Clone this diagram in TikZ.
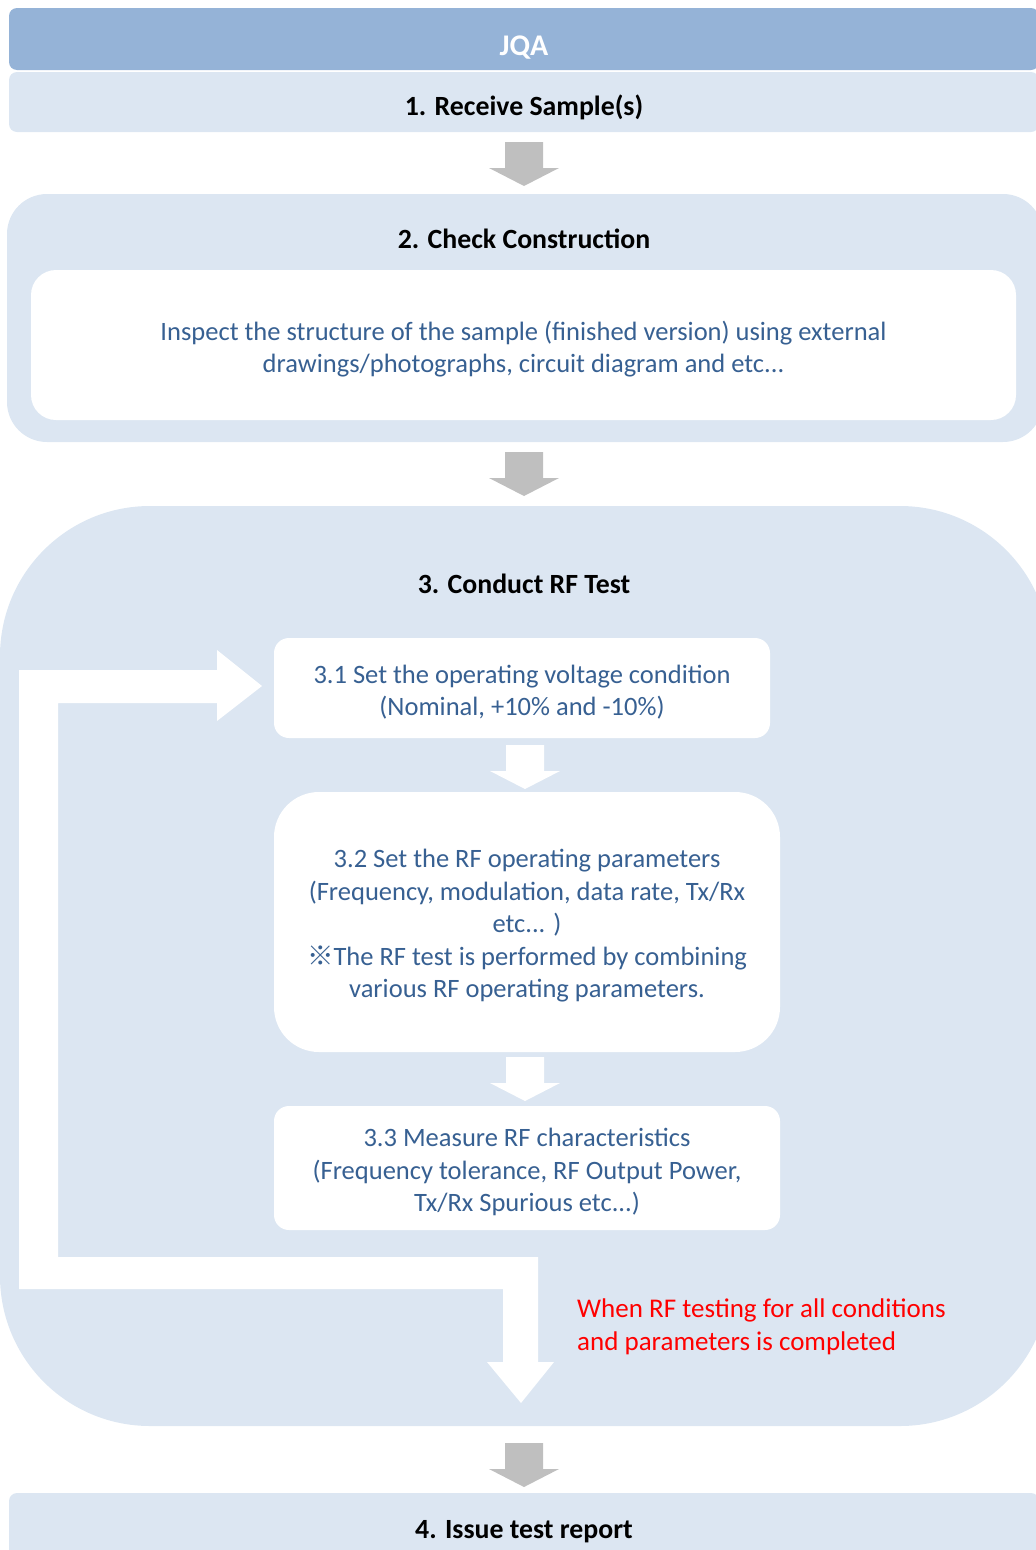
\documentclass[tikz,border=0pt]{standalone}
\usepackage{fontspec}
\setmainfont{Carlito}
\newfontfamily\cjkfont{Noto Sans CJK JP}
\usetikzlibrary{positioning}

\definecolor{headblue}{HTML}{95B3D7}
\definecolor{laneblue}{HTML}{DCE6F2}
\definecolor{textblue}{HTML}{376092}
\definecolor{arrowgray}{HTML}{BFBFBF}
\newcommand{\bodysize}{\fontsize{26.5}{32.5}\selectfont}
\newcommand{\titlesize}{\fontsize{27.8}{33}\selectfont}

\tikzset{
  blockarrow/.pic={
    \path[pic actions] (-19,0) -- (19,0) -- (19,26) -- (35,26) -- (0,44) -- (-35,26) -- (-19,26) -- cycle;
  }
}

\begin{document}
\begin{tikzpicture}[x=1pt, y=-1pt,
    every node/.style = {inner sep=0pt, align=center, font=\bodysize},
    lanebox/.style = {fill=laneblue, rounded corners=8pt, minimum width=1030pt},
    titletext/.style = {font=\titlesize\bfseries, text=black},
    stepbox/.style = {fill=white},
    steptext/.style = {text=textblue, yshift=-4pt},
    notetext/.style = {text=red, align=left, font=\fontsize{27}{33}\selectfont}
  ]
  \useasboundingbox (0,0) rectangle (1036,1550);
  \clip (0,0) rectangle (1036,1550);

  % header and step 1
  \node[lanebox, fill=headblue, minimum height=62pt] (jqa) at (524,39) {};
  \node[titletext, text=white, font=\fontsize{30}{34}\selectfont\bfseries] (jqatext) at (524,48) {JQA};
  \node[lanebox, minimum height=60pt] (recv) at (524,102) {};
  \node[titletext] (recvtext) at (524,107) {1. Receive Sample(s)};
  \pic[fill=arrowgray] at (524,142) {blockarrow};

  % step 2
  \node[fill=laneblue, rounded corners=40pt, minimum width=1036pt, minimum height=248pt] (check) at (525,318) {};
  \node[titletext] (checktext) at (524,239) {2. Check Construction};
  \node[stepbox, rounded corners=25pt, minimum width=985pt, minimum height=150pt] (inspect) at (523.5,345) {};
  \node[steptext] (inspecttext) at (inspect.center)
    {Inspect the structure of the sample (finished version) using external\\drawings/photographs, circuit diagram and etc...};
  \pic[fill=arrowgray] at (524,452) {blockarrow};

  % step 3
  \node[fill=laneblue, rounded corners=150pt, minimum width=1050pt, minimum height=920pt] (rftest) at (525,966) {};
  \node[titletext] (rftesttext) at (524,584) {3. Conduct RF Test};

  % loop back to 3.1
  \fill[white] (538,1257) -- (538,1362) -- (554,1362) -- (521,1403) -- (487,1362) -- (503,1362)
    -- (503,1289) -- (19,1289) -- (19,670) -- (217,670) -- (217,650) -- (262,686)
    -- (217,721) -- (217,703) -- (58,703) -- (58,1257) -- cycle;

  \node[stepbox, rounded corners=15pt, minimum width=496pt, minimum height=100pt] (s31) at (522,688) {};
  \node[steptext] (s31text) at (s31.center)
    {3.1 Set the operating voltage condition\\(Nominal, +10\% and -10\%)};
  \pic[fill=white] at (525,745) {blockarrow};
  \node[stepbox, rounded corners=45pt, minimum width=506pt, minimum height=260pt] (s32) at (527,922) {};
  \node[steptext] (s32text) at (s32.center)
    {3.2 Set the RF operating parameters\\(Frequency, modulation, data rate, Tx/Rx\\etc... )\\{\cjkfont ※}The RF test is performed by combining\\various RF operating parameters.};
  \pic[fill=white] at (525,1057) {blockarrow};
  \node[stepbox, rounded corners=15pt, minimum width=506pt, minimum height=124pt] (s33) at (527,1168) {};
  \node[steptext] (s33text) at (s33.center)
    {3.3 Measure RF characteristics\\(Frequency tolerance, RF Output Power,\\Tx/Rx Spurious etc...)};

  \node[notetext, anchor=west] (done) at (577,1327)
    {When RF testing for all conditions\\and parameters is completed};
  \pic[fill=arrowgray] at (524,1443) {blockarrow};

  % step 4
  \node[lanebox, minimum height=77pt] (report) at (524,1531.5) {};
  \node[titletext] (reporttext) at (524,1532) {4. Issue test report};
\end{tikzpicture}
\end{document}
